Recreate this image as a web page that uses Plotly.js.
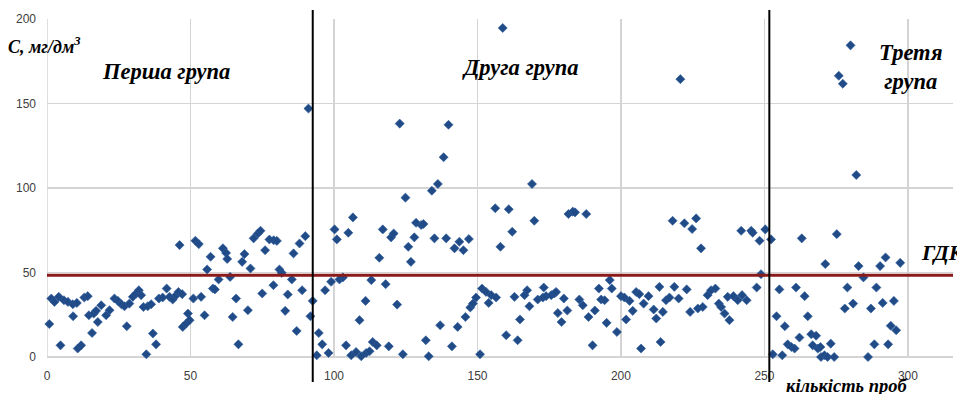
<!DOCTYPE html>
<html>
<head>
<meta charset="utf-8">
<script src="https://cdn.plot.ly/plotly-3.0.1.min.js"></script>
<style>html,body{margin:0;padding:0;background:#fff;}#chart{width:957px;height:394px;}</style>
</head>
<body>
<div id="chart"></div>
<script>
// Group 1 samples
const group1X = [0.8,1.5,2.6,4.1,4.7,5.9,7.3,9.0,9.1,10.4,10.7,11.9,13,14.2,14.6,15.7,16.3,17.1,17.7,18.9,20.6,21.8,23.5,24.7,25.9,27,27.8,28.7,29.9,31.1,32,32.8,33.6,34.6,35.1,36.3,36.9,38,39,40.3,41.7,42.7,43.8,45,45.8,46.2,47.1,47.3,48.5,49.1,49.7,51,51.7,52.9,53.7,54.9,55.8,57,57.8,58.5,59.8,61.3,62.4,62.8,63.8,64.7,65.9,66.7,68,68.8,70,70.9,72,73.5,74.4,75,76,77.5,79,80.1,78.9,81,81.8,83,83.9,85.3,85.9,87,88,88.9,90,91.1,91.8,92.6];
const group1Y = [19.5,34.6,32.6,35.6,6.9,33.6,32.6,31.2,24.1,32,5,6.9,35.2,36,24.7,14.2,25.7,27.3,20.7,30.6,24.7,27.7,34.6,33.2,31.2,30,18.2,31.6,35.6,37.6,39.5,36.6,29.6,1.6,30,31.2,13.9,7.5,34.6,35.2,40.5,35.6,34,36.6,38.5,66.2,37.2,17.8,19.8,25.7,21.8,34.6,68.8,66.8,35.6,24.7,51.8,59.3,40.5,40,45.9,64.3,61.6,58,47.4,23.7,34.6,7.5,56.3,60.9,27.7,52.4,70.2,73.1,74.7,37.6,63.2,69.5,69.1,68.7,42.5,51.8,49.8,27.3,37,45.9,61.3,15.4,67.2,39.5,71.5,147,24.1,33.2];
// Group 2 samples
const group2X = [94,94.7,95.9,96.9,98.1,99,100.2,101,101.9,103.1,104.2,105,106,106.6,107.7,108.9,109.5,111.2,111,112.4,113,113.5,114.9,115.8,117,118,119.1,119.9,120.8,122,122.9,124,124.9,125.9,126.8,128,128.6,130.4,131.2,132,133,134.1,135,136.2,137,138.2,139.1,139.9,141.1,142,143.1,143.7,145.1,145.8,147,147.5,148.4,149.5,150.9,151.6,153,153.9,154.8,156.2,156.5,158,158.8,160,160.9,162.1,162.9,164,164.8,166.4,167.3,168.1,169,169.8,171,172.8,173.1,173.9,175.7,176.8,177.4,178,179.3,180.1,181.3,181.7,183.2,184,185.5,186.7,187.9,188.7,190.1,190.9,192.3,193.1,194.3,195,196.1,196.8,198.6,200,201.2,201.8,203,204.1,205.3,206.4,207,207.9,209.6,211.4,212.3,213.4,213.8,214.6,215.7,216.9,218,218.6,220.1,220.7,222.1,222.9,224.1,224.8,226.2,226.8,227.9,228.5,230.2,231.4,232.9,234.1,234.9,236.1,237.2,237.8,239.2,240.7,241.9,242.2,243.8,245.4,245.9,247.3,248.3,248.8,250.3];
const group2Y = [1,14.2,7.5,39.5,2.4,44.5,75.5,69.6,45.9,47.1,6.9,73.5,1,82.6,3,21.8,0.4,2.4,33.2,3.4,45.5,8.9,6.9,58.7,75.5,43.1,6.3,70.8,73.1,31,138.1,1.6,94.3,65.2,56.3,70.8,79.4,78.1,78.7,9.9,0.4,98.4,70.2,102.4,18.8,118.2,70.2,137.4,6.3,64.3,17.8,68.2,63.2,23.7,69.8,29.3,31.6,35.2,1.6,40.5,38.5,32,36.6,88,35.2,65.2,194.7,12.9,87.4,74.1,35.6,9.9,22.2,36.6,39.5,30,102.4,80.6,34,35.2,41.1,36,36.6,37.6,38.5,26,20.7,34.6,27.5,84.6,86,85.6,34,30.6,84.6,23.7,6.9,27.5,40.5,34,33.6,20.2,45.5,40.5,14.8,36,35.2,22.2,33.2,27.3,38.5,37.2,5,31.6,36,28.1,22.8,41.5,8.9,26.7,33.6,35.2,80.6,41.5,34.6,164.4,79.1,40,26.7,75.7,82,28.7,64.3,29.6,36.6,39.5,40.5,31.6,29.6,25.7,35.6,21.8,36,33.6,74.7,36.6,33.6,74.7,73.5,41.1,68.8,49,75.5];
// Group 3 samples
const group3X = [252.3,252.9,254.2,255.2,256.2,257.1,258.1,259.4,260.5,261,262.2,263,264,265.1,266.3,266.8,268,268.6,269.5,269.7,270.9,271.2,272,273.1,274.3,275.2,275.9,277.3,278,278.9,280,280.9,282,282.8,284.5,286.1,287.1,288.3,289,290.3,291.2,292.2,293.1,294,295.1,295.9,297.3];
const group3Y = [69.6,1.6,24.1,40,1,18.2,7.5,5.9,5,41.1,11.5,70.2,36,24.1,13.5,6.9,12.6,5,5.9,0,1,55,0,7.9,0,72.7,166.4,161.7,28.7,41.1,184.4,31.6,107.7,53.8,47.1,0,28.7,7.5,41.1,53.8,32,58.9,7.5,18.5,33.2,15.8,55.7];

const gdkLevel = [48.4];          // ГДК, mg/dm3
const groupBounds = [92.6, 251.7]; // dividers between groups
const xTicks = [0, 50, 100, 150, 200, 250, 300];
const yTicks = [0, 50, 100, 150, 200];

const sampleX = group1X.concat(group2X, group3X);
const sampleY = group1Y.concat(group2Y, group3Y);

const W = 957, H = 394, ML = 47, MR = 4, MT = 19, MB = 37;
const pw = W - ML - MR, ph = H - MT - MB;
const px = p => (p - ML) / pw;
const py = p => (H - MB - p) / ph;

const titleFont = {family: '"Liberation Serif", "DejaVu Serif", serif', color: '#000', size: 19};

const shapes = [];
gdkLevel.forEach(v => shapes.push({type: 'line', xref: 'paper', yref: 'y', x0: 0, x1: 1, y0: v, y1: v,
  line: {color: '#8b1a1a', width: 3}}));
groupBounds.forEach(v => shapes.push({type: 'line', xref: 'x', yref: 'paper', x0: v, x1: v, y0: py(382), y1: py(10),
  line: {color: '#000', width: 2}}));

const ann = (text, x, y, size, xanchor) => ({text: '<b><i>' + text + '</i></b>', xref: 'paper', yref: 'paper',
  x: px(x), y: py(y), xanchor: xanchor || 'center', yanchor: 'middle', showarrow: false,
  font: Object.assign({}, titleFont, {size: size})});

const annotations = [
  ann('С, мг/дм<sup>3</sup>', 6, 46, 18, 'left'),
  ann('Перша група', 166, 71, 22.5),
  ann('Друга група', 520, 68, 22.5),
  ann('Третя<br>група', 911, 67, 22.5),
  ann('ГДК', 919, 252, 22, 'left'),
  ann('кількість проб', 846, 386, 18.5)
];

const trace = {
  type: 'scatter', mode: 'markers', x: sampleX, y: sampleY, cliponaxis: false,
  marker: {symbol: 'diamond', size: 7, color: '#214b87', line: {color: '#2d5c9c', width: 0.6}}
};

const layout = {
  width: W, height: H, margin: {l: ML, r: MR, t: MT, b: MB},
  paper_bgcolor: '#fff', plot_bgcolor: '#fff', showlegend: false,
  xaxis: {range: [0, 315.7], tickvals: xTicks, ticktext: xTicks.map(String), showgrid: true, gridcolor: '#d4d4d4', gridwidth: 1.5,
    zeroline: false, showline: false, ticks: '', ticklabelstandoff: 10,
    tickfont: {family: '"Liberation Sans", Arial, sans-serif', size: 12, color: '#404040'}},
  yaxis: {range: [0, 200], tickvals: yTicks, ticktext: yTicks.map(String), showgrid: true, gridcolor: '#d4d4d4', gridwidth: 1.5,
    zeroline: true, zerolinecolor: '#d4d4d4', zerolinewidth: 1.5, showline: false, ticks: '', ticklabelstandoff: 10,
    tickfont: {family: '"Liberation Sans", Arial, sans-serif', size: 12, color: '#404040'}},
  shapes: shapes, annotations: annotations
};
// vertical axis line at x=0 drawn in gridline colour
layout.shapes.unshift({type: 'line', xref: 'x', yref: 'paper', x0: 0, x1: 0, y0: 0, y1: 1, line: {color: '#d4d4d4', width: 1.5}, layer: 'below'});

Plotly.newPlot('chart', [trace], layout, {displayModeBar: false, staticPlot: true});
</script>
</body>
</html>
